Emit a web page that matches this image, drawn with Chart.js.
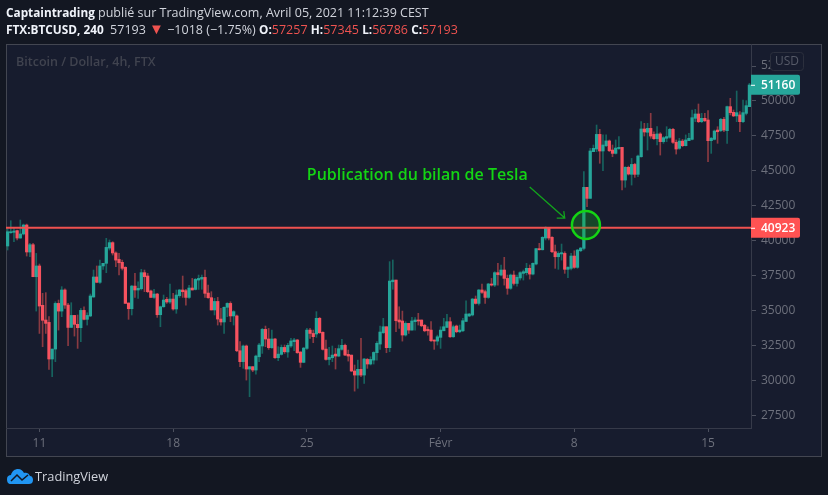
<!DOCTYPE html>
<html lang="fr">
<head>
<meta charset="UTF-8">
<title>BTCUSD</title>
<style>
  html, body { margin: 0; padding: 0; background: #131722; }
  body { width: 828px; height: 495px; overflow: hidden; position: relative; font-family: "Open Sans", sans-serif; }
  canvas { display: block; position: absolute; left: 0; top: 0; }
  .head { position: absolute; left: 6px; font-size: 12.5px; line-height: 16px; color: #d1d4dc; white-space: nowrap; }
  .head b { color: #f0f3fa; font-weight: 700; font-size: 11.8px; }
  .red { color: #ef5350; }
  .tri { color: #ef5350; font-size: 15px; line-height: 14px; }
  .logo { position: absolute; left: 6px; top: 468px; }
  .brand { position: absolute; left: 35px; top: 468px; font-size: 12.8px; line-height: 17px; color: #d1d4dc; }
</style>
</head>
<body>
<canvas id="myChart" width="828" height="495"></canvas>
<div class="head" style="top:4px"><b>Captaintrading</b> publié sur TradingView.com, Avril 05, 2021 11:12:39 CEST</div>
<div class="head" style="top:21px"><b>FTX:BTCUSD, 240</b>&nbsp; 57193 <span class="tri">▼</span> −1018 (−1.75%) <b>O:</b><span class="red">57257</span> <b>H:</b><span class="red">57345</span> <b>L:</b><span class="red">56786</span> <b>C:</b><span class="red">57193</span></div>
<svg class="logo" width="28" height="17" viewBox="0 0 28 17">
  <path d="M1 11 C1 8 3 7 5 7 C6 3 9 1 12 1 C15 1 17 3 18 5 C20 4 23 5 24 8 C26 8 27 10 27 12 C27 15 25 16 23 16 L5 16 C2 16 1 14 1 11 Z" fill="#2196f3"/>
  <path d="M5 13 L11 7 L16 12 L22 7" fill="none" stroke="#131722" stroke-width="1.5"/>
</svg>
<div class="brand">TradingView</div>

<script src="https://cdn.jsdelivr.net/npm/chart.js"></script>
<script>
  const opens = [
    39620,40570,40600,40720,40190,40480,41120,39190,39710,37420,
    38190,35370,34320,34150,31530,32240,35510,34960,36470,35390,
    33790,34650,34010,33770,35010,34370,34610,35970,37400,37020,
    38190,38380,39470,39860,39120,38660,38450,38090,35540,35130,
    36750,36470,36560,37710,37470,36400,35940,36180,34700,35270,
    35800,35610,35820,35110,36060,36470,36420,35940,36610,36510,
    37180,37250,37370,36250,35920,35040,35650,34390,34180,35230,
    35510,34610,34610,32120,31340,32460,30810,30980,30740,31690,
    32460,33650,32960,32340,32960,31620,31860,32360,32030,32460,
    32770,32890,32030,31290,32290,33600,33360,33320,34440,33440,
    32240,31500,31620,31880,31740,32220,32510,31860,31810,30670,
    30380,30790,30380,31500,31170,31450,31980,32600,33410,33840,
    32340,37060,37180,34320,34250,33245,34080,33600,34200,34320,
    34320,33940,33650,33600,32890,32810,33080,33550,33790,34200,
    33120,33890,33480,33550,34220,34610,34680,35820,35510,36470,
    36350,35940,36900,36820,37710,37540,37900,37300,36590,37540,
    36940,37330,37660,37710,38020,37610,38330,39430,39350,40190,
    40880,40240,39210,38850,39050,39090,37950,38020,38900,38090,
    39280,39450,43820,43030,46370,46560,47610,46420,46800,47140,
    46490,46250,46590,46680,44340,45250,44750,45460,44750,46010,
    47995,47760,48040,47610,47300,47640,47090,47330,47400,47970,
    47040,46610,47130,46800,47160,47255,48760,49070,48520,48760,
    48640,47160,47255,47920,47875,48690,47875,49595,49190,48930,
    49000,48520,49115,49595
  ];
  const highs = [
    40880,41430,40880,40760,41480,41190,41190,39810,39810,39090,
    38330,36230,36280,34560,32240,35630,35750,36710,36560,35510,
    35560,34650,34680,35150,35270,34840,36180,37900,38190,38620,
    38380,40170,40050,39930,39210,39090,38610,38140,35540,36800,
    37660,37060,37950,37900,37660,36470,36510,36230,35320,36110,
    35940,36900,36230,36470,36510,37470,36510,36800,37300,37300,
    37540,37540,37900,36830,36350,35870,35940,35150,35270,35560,
    35630,34990,34680,32770,32530,32530,30980,30980,31810,32650,
    33720,33890,33720,33600,33010,32410,32530,32530,32650,33010,
    33010,32930,32050,32360,33720,33720,33600,34920,34510,33480,
    32890,32360,32460,32290,32530,32930,32600,32170,31810,31100,
    31450,33010,31570,31570,31690,32050,32770,33890,34440,33840,
    38500,38620,37180,35270,34960,34200,34080,34510,34490,34800,
    34320,34010,33840,34200,32890,33240,33840,34440,34720,34490,
    33960,33960,33960,34440,35700,34800,35870,36040,36510,36900,
    36470,36945,37300,37780,38380,38260,38810,37540,37610,37830,
    37540,37780,37900,38380,38260,38420,39450,39810,40290,41000,
    40950,40290,39690,39210,39760,39210,38140,39090,39280,39380,
    39520,44940,43820,46610,46850,48280,47970,47570,47570,47210,
    46850,47210,47450,46680,45300,45340,45890,45540,46130,48520,
    48400,48400,49120,47800,48160,47730,47450,48160,48040,48040,
    47210,47330,47250,47570,47685,49355,49400,49785,49115,49115,
    49310,47400,47920,48160,48760,48830,49640,50190,49355,50715,
    49235,50070,50025,51265
  ];
  const lows = [
    39330,40525,39930,40050,40170,40410,38900,38850,37420,34960,
    33360,32410,33360,30790,30260,31340,33600,34560,35150,32480,
    33790,33170,32290,32770,34320,33960,34560,35940,36990,36945,
    37950,37710,39330,38970,38140,37540,37900,35510,34370,34680,
    35940,35870,36470,36350,36280,35940,35870,34510,33840,35230,
    35510,35510,35030,34800,35940,35940,35390,35870,36470,36470,
    36510,36520,35940,35870,35040,34680,33960,33960,33360,34560,
    34200,33960,32050,30980,30860,30020,28830,30620,30450,31340,
    31930,32410,32220,32290,31570,31410,31810,31930,31650,32360,
    32120,31930,30930,31260,32220,33010,32700,33080,33360,32170,
    31450,31100,31340,30810,31690,32170,31770,31380,30620,29230,
    29430,30260,29780,30860,31100,31170,31450,32220,33360,31980,
    32050,36520,33480,33720,32810,33170,33360,33600,33600,33960,
    33840,33480,33240,32770,32220,32530,32290,33550,33790,33080,
    33080,33410,33410,33480,34200,34560,34610,35460,35390,36230,
    35510,35870,36750,36710,36820,37470,36820,36160,36510,36820,
    36750,37180,37180,37540,37250,37540,38260,39330,39330,40050,
    40050,39140,38020,37950,38610,37660,37350,37900,38020,38020,
    39210,39330,42430,43030,46370,46370,45540,45010,46730,46370,
    46010,46200,46540,43630,43820,44700,43980,44530,44580,45970,
    47490,46490,47330,47255,46850,46130,46970,47090,47330,46970,
    46200,46540,46730,46780,47160,47210,48520,48450,48450,48520,
    45660,46250,47210,46970,47800,47800,46970,49000,48880,48520,
    47800,48450,49000,49595
  ];
  const closes = [
    40640,40640,40690,40190,40480,41120,39190,39710,37420,38190,
    35320,34300,34080,31530,32240,35510,34960,36470,35390,33790,
    34650,34010,33770,35010,34370,34650,36040,37400,37020,38190,
    38380,39520,39860,39120,38610,38420,38020,35510,35130,36750,
    36470,36590,37710,37420,36350,35940,36180,34700,35270,35750,
    35610,35820,35110,36110,36470,36350,35940,36610,36470,37230,
    37300,37370,36230,35920,35040,35650,34390,34180,35230,35510,
    34610,34920,32120,31340,32460,30810,30980,30740,31740,32530,
    33650,32960,32340,32960,31620,31880,32360,32050,32510,32820,
    32890,31980,31290,32310,33600,33360,33130,34440,33410,32220,
    31500,31650,31810,31740,32270,32510,31810,31740,30670,30380,
    30790,30380,31530,31170,31500,32000,32650,33460,33840,32340,
    37110,37180,34270,34180,33245,34080,33600,34250,34320,34250,
    33910,33550,33550,32840,32810,33120,33600,33840,34200,33120,
    33840,33480,33600,34270,34750,34750,35820,35510,36470,36300,
    35940,36900,36820,37710,37570,37900,37300,36590,37540,36940,
    37380,37710,37780,38020,37610,38380,39430,39350,40240,40880,
    40190,39210,38850,39090,39140,37950,38090,38900,38090,39330,
    39470,43820,43030,46420,46610,47610,46420,46850,47140,46440,
    46250,46630,46680,44340,45250,44770,45460,44750,46060,47995,
    47780,48040,47490,47300,47640,47090,47375,47450,47970,47040,
    46560,47130,46800,47210,47330,48805,49070,48520,48760,48590,
    47160,47330,47850,47800,48690,47920,49595,49165,48930,49165,
    48520,49165,49665,51145
  ];

  // only these candles carry a date label on the time axis
  const dateLabels = { 10: "11", 52: "18", 94: "25", 136: "Févr", 178: "8", 220: "15" };
  const priceTicks = [27500, 30000, 32500, 35000, 37500, 40000, 42500, 45000, 47500, 50000, 52500];
  const axisMin = 26590;
  const axisMax = 54080;
  const levelPrice = 40923;
  const lastPrice = 51160;
  const noteText = "Publication du bilan de Tesla";

  const upColor = "#26a69a";
  const downColor = "#f7525f";
  const upWick = "#17635f";
  const downWick = "#8a3a42";
  const axisColor = "#363a49";
  const tickText = "#6d707c";
  const noteGreen = "#14d414";

  const candleLabels = opens.map((o, i) => dateLabels[i] || "");
  const bodies = opens.map((o, i) => [o, closes[i]]);
  const wicks = lows.map((l, i) => [l, highs[i]]);
  const bodyColors = opens.map((o, i) => closes[i] >= o ? upColor : downColor);
  const wickColors = opens.map((o, i) => closes[i] >= o ? upWick : downWick);

  function priceTag(ctx, area, y, color, text) {
    ctx.fillStyle = color;
    ctx.beginPath();
    ctx.roundRect(area.right, y - 10, 49, 20, [0, 2, 2, 0]);
    ctx.fill();
    ctx.fillStyle = "#ffffff";
    ctx.fillRect(area.right, y, 4, 1);
    ctx.font = "600 12px 'Open Sans'";
    ctx.textAlign = "left";
    ctx.textBaseline = "middle";
    ctx.fillText(text, area.right + 10, y + 0.5);
  }

  const backdrop = {
    id: "backdrop",
    beforeDraw(chart) {
      const ctx = chart.ctx;
      ctx.save();
      ctx.fillStyle = "#131722";
      ctx.fillRect(0, 0, 828, 495);
      ctx.fillStyle = "#171c2e";
      ctx.fillRect(6, 44, 816, 413);
      ctx.strokeStyle = "#434651";
      ctx.lineWidth = 1;
      ctx.strokeRect(6.5, 44.5, 815, 412);
      ctx.fillStyle = "#40434f";
      ctx.font = "600 12.5px 'Open Sans'";
      ctx.textBaseline = "middle";
      ctx.fillText("Bitcoin / Dollar, 4h, FTX", 16, 62);
      ctx.restore();
    }
  };

  const overlay = {
    id: "overlay",
    afterDraw(chart) {
      const ctx = chart.ctx;
      const area = chart.chartArea;
      const xs = chart.scales.x;
      const ys = chart.scales.y;
      ctx.save();

      // horizontal level
      const levelY = ys.getPixelForValue(levelPrice);
      ctx.strokeStyle = "#f0514f";
      ctx.lineWidth = 2;
      ctx.beginPath();
      ctx.moveTo(area.left, levelY);
      ctx.lineTo(area.right, levelY);
      ctx.stroke();
      priceTag(ctx, area, levelY, "#ff5252", String(levelPrice));
      priceTag(ctx, area, ys.getPixelForValue(lastPrice), upColor, String(lastPrice));

      // USD badge
      ctx.fillStyle = "#171c2e";
      ctx.strokeStyle = "#2b2f3d";
      ctx.lineWidth = 1;
      ctx.beginPath();
      ctx.roundRect(770.5, 52.5, 33, 18, 3);
      ctx.fill();
      ctx.stroke();
      ctx.fillStyle = "#565a68";
      ctx.font = "12px 'Open Sans'";
      ctx.textAlign = "center";
      ctx.textBaseline = "middle";
      ctx.fillText("USD", 787, 62);

      // circle on the breakout candle
      const cx = xs.getPixelForValue(181.65);
      const cy = ys.getPixelForValue(41120);
      ctx.beginPath();
      ctx.arc(cx, cy, 14, 0, Math.PI * 2);
      ctx.fillStyle = "rgba(20, 170, 30, 0.3)";
      ctx.fill();
      ctx.strokeStyle = noteGreen;
      ctx.lineWidth = 2.5;
      ctx.stroke();

      // arrow and note
      const ax = xs.getPixelForValue(164);
      const ay = ys.getPixelForValue(43840);
      const tx = xs.getPixelForValue(175);
      const ty = ys.getPixelForValue(41620);
      ctx.strokeStyle = "#12a41c";
      ctx.lineWidth = 1.3;
      ctx.beginPath();
      ctx.moveTo(ax, ay);
      ctx.lineTo(tx, ty);
      ctx.moveTo(tx - 8, ty);
      ctx.lineTo(tx, ty);
      ctx.lineTo(tx - 1, ty - 7);
      ctx.stroke();

      ctx.fillStyle = noteGreen;
      ctx.font = "600 16px 'Open Sans'";
      ctx.textAlign = "left";
      ctx.textBaseline = "middle";
      ctx.fillText(noteText, xs.getPixelForValue(94), ys.getPixelForValue(44700));
      ctx.restore();
    }
  };

  const myChart = new Chart(document.getElementById("myChart"), {
    type: "bar",
    data: {
      labels: candleLabels,
      datasets: [
        { label: "corps", data: bodies, backgroundColor: bodyColors, barThickness: 2.6, grouped: false, minBarLength: 1 },
        { label: "mèches", data: wicks, backgroundColor: wickColors, barThickness: 1, grouped: false }
      ]
    },
    options: {
      responsive: false,
      maintainAspectRatio: false,
      animation: false,
      devicePixelRatio: 1,
      layout: { padding: { left: 6, top: 44, right: 6, bottom: 38 } },
      plugins: { legend: { display: false }, tooltip: { enabled: false } },
      scales: {
        x: {
          offset: true,
          afterFit(scale) { scale.height = 29; },
          border: { color: axisColor },
          grid: { offset: false, drawOnChartArea: false, tickLength: 4, tickColor: "#4c505e" },
          ticks: {
            autoSkip: false,
            maxRotation: 0,
            padding: 4,
            color: tickText,
            font: { family: "Open Sans", size: 12 },
            callback(value, index) { return dateLabels[index] || null; }
          }
        },
        y: {
          position: "right",
          min: axisMin,
          max: axisMax,
          afterFit(scale) { scale.width = 71; },
          afterBuildTicks(scale) { scale.ticks = priceTicks.map(v => ({ value: v })); },
          border: { color: axisColor },
          grid: { drawOnChartArea: false, tickLength: 5, tickColor: "#4c505e" },
          ticks: {
            autoSkip: false,
            padding: 5,
            color: tickText,
            font: { family: "Open Sans", size: 12 },
            callback(value) { return String(value); }
          }
        }
      }
    },
    plugins: [backdrop, overlay]
  });
</script>
</body>
</html>
